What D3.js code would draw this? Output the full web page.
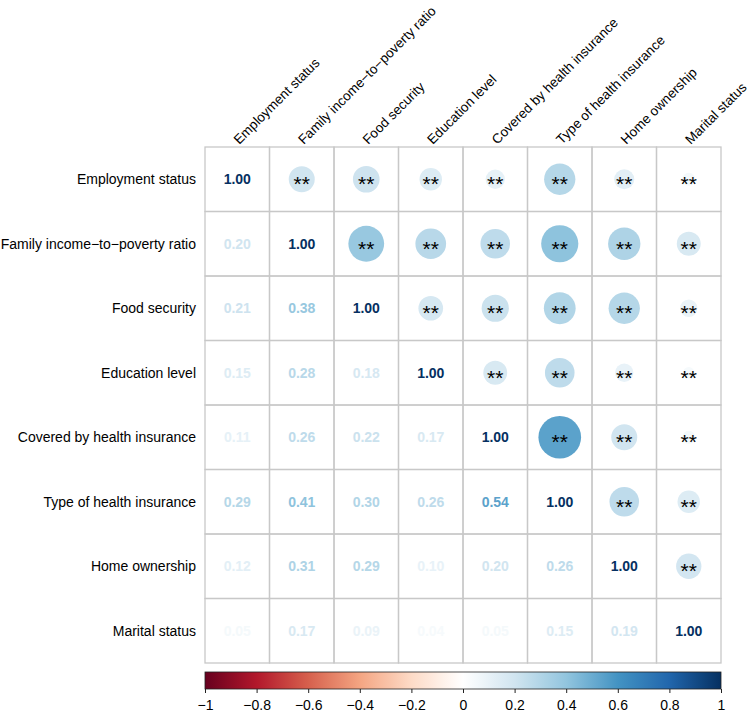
<!DOCTYPE html>
<html>
<head>
<meta charset="utf-8">
<script src="https://cdn.jsdelivr.net/npm/d3@7"></script>
<style>
  body { margin: 0; background: #fff; }
  svg { display: block; font-family: "Liberation Sans", Arial, sans-serif; }
</style>
</head>
<body>
<svg id="corrchart"></svg>
<script>
const variables = [
	'Employment status',
	'Family income\u2212to\u2212poverty ratio',
	'Food security',
	'Education level',
	'Covered by health insurance',
	'Type of health insurance',
	'Home ownership',
	'Marital status'
];

// lower triangle, row by row (row i has i values)
const lowerValues = [
	[],
	[0.20],
	[0.21, 0.38],
	[0.15, 0.28, 0.18],
	[0.11, 0.26, 0.22, 0.17],
	[0.29, 0.41, 0.30, 0.26, 0.54],
	[0.12, 0.31, 0.29, 0.10, 0.20, 0.26],
	[0.05, 0.17, 0.09, 0.04, 0.05, 0.15, 0.19]
];

const sigLabel = '**';
const colorTicks = [-1, -0.8, -0.6, -0.4, -0.2, 0, 0.2, 0.4, 0.6, 0.8, 1];
const paletteColors = ['#67001F', '#B2182B', '#D6604D', '#F4A582', '#FDDBC7', '#FFFFFF',
	'#D1E5F0', '#92C5DE', '#4393C3', '#2166AC', '#053061'];

function makeChart() {
	let w = 752;
	let h = 714;
	let left = 205, top = 147, size = 516;

	let chart = d3.select('#corrchart')
		.attr('width', w)
		.attr('height', h);

	var color = d3.scaleLinear()
		.domain(d3.range(paletteColors.length).map(i => -1 + i * 2 / (paletteColors.length - 1)))
		.range(paletteColors);

	var x = d3.scaleBand().domain(variables).range([left, left + size]);
	var y = d3.scaleBand().domain(variables).range([top, top + size]);
	let bw = x.bandwidth();

	// full matrix cells
	let cells = [];
	variables.forEach((rv, i) => {
		variables.forEach((cv, j) => {
			let r = i === j ? 1 : (i > j ? lowerValues[i][j] : lowerValues[j][i]);
			cells.push({ row: rv, col: cv, i: i, j: j, r: r });
		});
	});

	// circles in upper triangle
	chart.selectAll('circle.corr')
		.data(cells.filter(d => d.j > d.i))
		.enter()
		.append('circle')
		.attr('class', 'corr')
		.attr('cx', d => x(d.col) + bw / 2)
		.attr('cy', d => y(d.row) + bw / 2)
		.attr('r', d => 0.45 * Math.sqrt(Math.abs(d.r)) * bw)
		.style('fill', d => color(d.r));

	// grid
	chart.selectAll('rect.cell')
		.data(cells)
		.enter()
		.append('rect')
		.attr('class', 'cell')
		.attr('x', d => x(d.col))
		.attr('y', d => y(d.row))
		.attr('width', bw)
		.attr('height', bw)
		.style('fill', 'none')
		.style('stroke', '#c8c8c8')
		.style('stroke-width', 1.3);

	// significance stars
	chart.selectAll('text.sig')
		.data(cells.filter(d => d.j > d.i))
		.enter()
		.append('text')
		.attr('class', 'sig')
		.attr('x', d => x(d.col) + bw / 2)
		.attr('y', d => y(d.row) + bw / 2 + 12)
		.style('text-anchor', 'middle')
		.style('font-size', '21px')
		.style('fill', '#000')
		.text(sigLabel);

	// numbers on diagonal and lower triangle
	chart.selectAll('text.num')
		.data(cells.filter(d => d.j <= d.i))
		.enter()
		.append('text')
		.attr('class', 'num')
		.attr('x', d => x(d.col) + bw / 2)
		.attr('y', d => y(d.row) + bw / 2 + 5)
		.style('text-anchor', 'middle')
		.style('font-size', '14px')
		.style('font-weight', 'bold')
		.style('fill', d => color(d.r))
		.text(d => d.r.toFixed(2));

	// row labels
	chart.selectAll('text.rowlab')
		.data(variables)
		.enter()
		.append('text')
		.attr('class', 'rowlab')
		.attr('x', left - 9)
		.attr('y', d => y(d) + bw / 2 + 5)
		.style('text-anchor', 'end')
		.style('font-size', '14px')
		.style('fill', '#000')
		.text(d => d);

	// column labels, 45 degrees
	chart.selectAll('text.collab')
		.data(variables)
		.enter()
		.append('text')
		.attr('class', 'collab')
		.attr('transform', d => `translate(${x(d) + bw / 2 + 2}, ${top - 2}) rotate(-45)`)
		.style('font-size', '13.5px')
		.style('fill', '#000')
		.text(d => d);

	// colour bar
	let barTop = 672, barH = 17;
	var cx = d3.scaleLinear().domain([-1, 1]).range([left, left + size]);

	let grad = chart.append('defs').append('linearGradient')
		.attr('id', 'rdbu')
		.attr('x1', '0%').attr('x2', '100%')
		.attr('y1', '0%').attr('y2', '0%');
	grad.selectAll('stop')
		.data(d3.range(0, 1.0001, 0.02))
		.enter()
		.append('stop')
		.attr('offset', d => (d * 100) + '%')
		.attr('stop-color', d => color(-1 + 2 * d));

	chart.append('rect')
		.attr('x', left)
		.attr('y', barTop)
		.attr('width', size)
		.attr('height', barH)
		.style('fill', 'url(#rdbu)')
		.style('stroke', '#222')
		.style('stroke-width', 0.8);

	let axis = chart.append('g')
		.attr('transform', `translate(0, ${barTop + barH})`)
		.call(d3.axisBottom(cx)
			.tickValues(colorTicks)
			.tickSize(4)
			.tickFormat(d3.format('~g')));
	axis.select('.domain').remove();
	axis.selectAll('line').style('stroke', '#222');
	axis.selectAll('text')
		.attr('y', 11)
		.style('font-size', '14px')
		.style('font-family', '"Liberation Sans", Arial, sans-serif')
		.style('fill', '#000');
}

window.onload = function () {
	makeChart();
}
</script>
</body>
</html>
